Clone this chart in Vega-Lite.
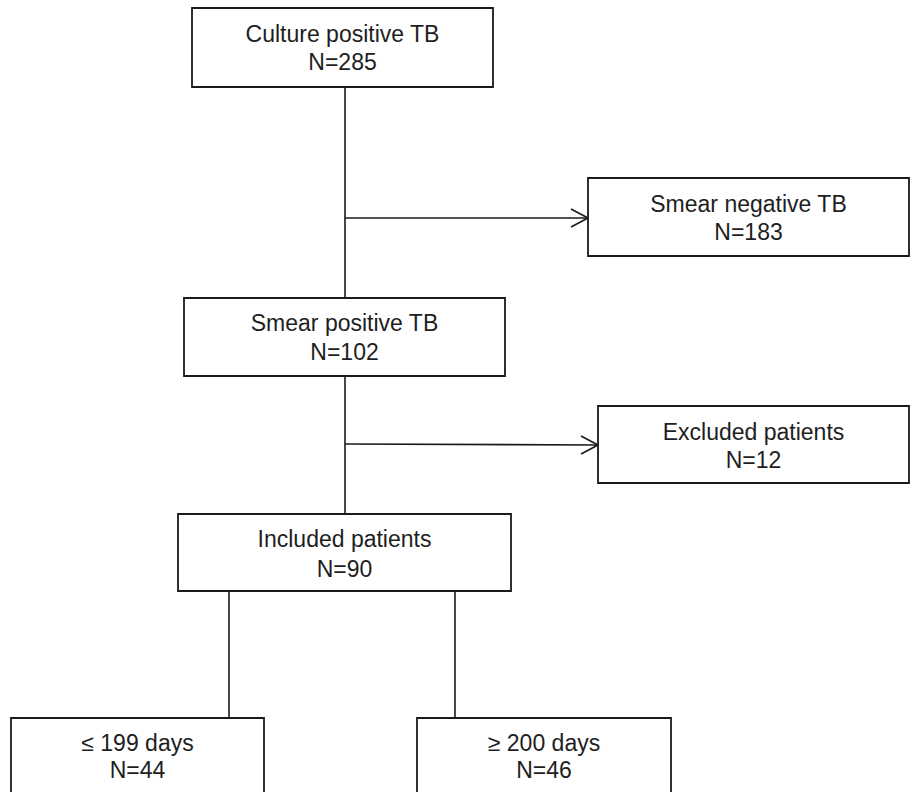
{
  "$schema": "https://vega.github.io/schema/vega-lite/v6.json",
  "width": 912,
  "height": 792,
  "autosize": {"type": "none"},
  "padding": 0,
  "background": "white",
  "config": {"view": {"stroke": null}},
  "datasets": {
    "boxes": [
      {"box": "Culture positive TB", "x1": 192, "x2": 493, "y1": 8, "y2": 87, "cx": 342.5, "b1": 42, "b2": 70, "line1": "Culture positive TB", "line2": "N=285"},
      {"box": "Smear negative TB", "x1": 588, "x2": 909, "y1": 178, "y2": 256, "cx": 748.5, "b1": 212, "b2": 240, "line1": "Smear negative TB", "line2": "N=183"},
      {"box": "Smear positive TB", "x1": 184, "x2": 505, "y1": 298, "y2": 376, "cx": 344.5, "b1": 331, "b2": 360, "line1": "Smear positive TB", "line2": "N=102"},
      {"box": "Excluded patients", "x1": 598, "x2": 909, "y1": 406, "y2": 483, "cx": 753.5, "b1": 440, "b2": 468, "line1": "Excluded patients", "line2": "N=12"},
      {"box": "Included patients", "x1": 178, "x2": 511, "y1": 514, "y2": 591, "cx": 344.5, "b1": 547, "b2": 577, "line1": "Included patients", "line2": "N=90"},
      {"box": "≤ 199 days", "x1": 11, "x2": 264, "y1": 718, "y2": 800, "cx": 137.5, "b1": 751, "b2": 778, "line1": "≤ 199 days", "line2": "N=44"},
      {"box": "≥ 200 days", "x1": 417, "x2": 671, "y1": 718, "y2": 800, "cx": 544, "b1": 751, "b2": 778, "line1": "≥ 200 days", "line2": "N=46"}
    ],
    "links": [
      {"x1": 345, "y1": 87, "x2": 345, "y2": 298},
      {"x1": 345, "y1": 218, "x2": 588, "y2": 218},
      {"x1": 571, "y1": 209, "x2": 588, "y2": 218},
      {"x1": 571, "y1": 227, "x2": 588, "y2": 218},
      {"x1": 345, "y1": 376, "x2": 345, "y2": 514},
      {"x1": 345, "y1": 444, "x2": 598, "y2": 445},
      {"x1": 581, "y1": 436, "x2": 598, "y2": 445},
      {"x1": 581, "y1": 454, "x2": 598, "y2": 445},
      {"x1": 229, "y1": 591, "x2": 229, "y2": 718},
      {"x1": 455, "y1": 591, "x2": 455, "y2": 718}
    ]
  },
  "layer": [
    {
      "data": {"name": "links"},
      "mark": {"type": "rule", "stroke": "#1a1a1a", "strokeWidth": 1.6},
      "encoding": {
        "x": {"field": "x1", "type": "quantitative", "scale": {"domain": [0, 912], "nice": false, "zero": false}, "axis": null},
        "x2": {"field": "x2"},
        "y": {"field": "y1", "type": "quantitative", "scale": {"domain": [0, 792], "nice": false, "zero": false, "reverse": true}, "axis": null},
        "y2": {"field": "y2"}
      }
    },
    {
      "data": {"name": "boxes"},
      "mark": {"type": "rect", "fill": "white", "stroke": "#1a1a1a", "strokeWidth": 1.8, "clip": true},
      "encoding": {
        "x": {"field": "x1", "type": "quantitative"},
        "x2": {"field": "x2"},
        "y": {"field": "y1", "type": "quantitative"},
        "y2": {"field": "y2"}
      }
    },
    {
      "data": {"name": "boxes"},
      "mark": {"type": "text", "font": "Liberation Sans", "fontSize": 23, "fill": "#1e1e1e", "align": "center", "baseline": "alphabetic"},
      "encoding": {
        "x": {"field": "cx", "type": "quantitative"},
        "y": {"field": "b1", "type": "quantitative"},
        "text": {"field": "line1"}
      }
    },
    {
      "data": {"name": "boxes"},
      "mark": {"type": "text", "font": "Liberation Sans", "fontSize": 23, "fill": "#1e1e1e", "align": "center", "baseline": "alphabetic"},
      "encoding": {
        "x": {"field": "cx", "type": "quantitative"},
        "y": {"field": "b2", "type": "quantitative"},
        "text": {"field": "line2"}
      }
    }
  ]
}
